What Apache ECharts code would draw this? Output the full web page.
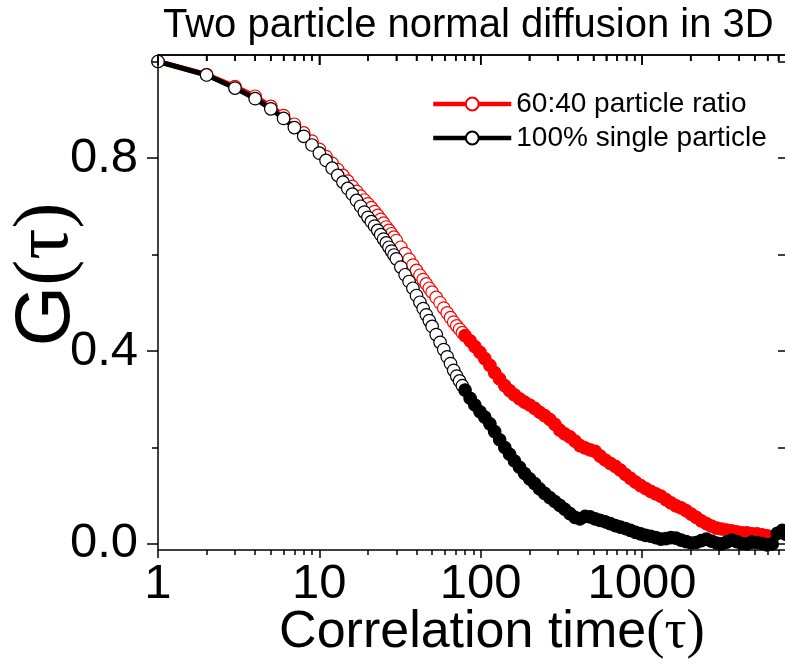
<!DOCTYPE html>
<html><head><meta charset="utf-8">
<script src="https://cdn.jsdelivr.net/npm/echarts@6/dist/echarts.min.js"></script>
<style>html,body{margin:0;padding:0;background:#fff}#c{width:785px;height:664px}</style>
</head><body><div id="c"></div>
<script>
// Correlation time samples (tau)
const tau = [1,2,3,4,5,6,7,8,9,10,11,12,13,14,15,16,17,18,19,20,
  21,22,23,24,25,26,27,28,29,30,32,34,36,38,40,42,44,46,48,50,
  53,56,59,62,65,68,71,74,77,80,86,92,99,106,114,122,131,141,151,162,
  174,187,201,216,232,249,268,288,309,332,357,384,412,443,476,512,550,591,635,683,
  734,789,848,911,979,1052,1131,1216,1307,1405,1510,1623,1745,1875,2016,2167,2329,2504,2691,2893,
  3110,3343,3593,3863,4152,4463,4798,5158,5544,5960,6407,6887,7403,7800];
// 60:40 particle ratio (red)
const gRatio = [1.000,0.973,0.948,0.928,0.907,0.888,0.870,0.852,0.835,0.818,0.803,0.789,0.776,0.764,0.752,0.741,0.731,0.721,0.713,0.705,
  0.697,0.689,0.681,0.673,0.665,0.657,0.650,0.643,0.636,0.629,0.615,0.602,0.590,0.578,0.567,0.557,0.548,0.539,0.530,0.522,
  0.511,0.500,0.489,0.479,0.469,0.460,0.452,0.445,0.438,0.432,0.421,0.409,0.397,0.384,0.370,0.355,0.342,0.328,0.318,0.309,
  0.301,0.294,0.288,0.281,0.273,0.266,0.258,0.248,0.236,0.228,0.222,0.213,0.204,0.199,0.195,0.192,0.182,0.174,0.167,0.161,
  0.153,0.144,0.136,0.128,0.121,0.115,0.109,0.104,0.099,0.092,0.085,0.079,0.075,0.069,0.062,0.055,0.048,0.042,0.037,0.033,
  0.031,0.029,0.027,0.025,0.023,0.023,0.021,0.021,0.019,0.017,0.012];
// 100% single particle (black)
const gSingle = [1.000,0.972,0.945,0.923,0.902,0.882,0.863,0.845,0.827,0.810,0.795,0.779,0.764,0.750,0.737,0.725,0.712,0.700,0.688,0.677,
  0.668,0.659,0.650,0.641,0.632,0.624,0.615,0.607,0.599,0.591,0.574,0.558,0.544,0.530,0.515,0.501,0.488,0.475,0.463,0.451,
  0.434,0.418,0.403,0.388,0.374,0.360,0.348,0.338,0.328,0.319,0.302,0.288,0.274,0.263,0.249,0.233,0.216,0.200,0.186,0.172,
  0.159,0.146,0.135,0.125,0.114,0.105,0.096,0.088,0.080,0.072,0.063,0.055,0.052,0.057,0.056,0.052,0.049,0.046,0.042,0.038,
  0.035,0.032,0.028,0.024,0.021,0.018,0.016,0.013,0.010,0.011,0.013,0.012,0.008,0.005,0.002,0.003,0.007,0.010,0.006,0.002,
  0.000,0.004,0.008,0.005,0.001,0.000,0.004,0.003,0.001,-0.002,0.000,0.022,0.028,0.020];
const seriesNames = ['60:40 particle ratio','100% single particle'];
const xMajorTicks = [1,10,100,1000];
const xMinorTicks = [2,3,4,5,6,7,8,9,20,30,40,50,60,70,80,90,200,300,400,500,600,700,800,900,2000,3000,4000,5000,6000,7000];
const yMajorTicks = [0,0.4,0.8];
const yMinorTicks = [0.2,0.6,1.0];
const yAllTicks = [0,0.2,0.4,0.6,0.8,1.0];

const SANS = '"Liberation Sans", Arial, sans-serif';
const SERIF = '"Liberation Serif", "Times New Roman", serif';
const FILL_FROM = 80;  // markers merge into a solid band beyond this tau

function build(vals, fill) {
  return vals.map((v, i) => {
    const item = { value: [tau[i], v] };
    if (tau[i] >= FILL_FROM) item.itemStyle = { color: fill };
    return item;
  });
}

const X_MIN = 1, X_MAX = 7800, Y_MIN = -0.0125, Y_MAX = 1.0135;
function grid() { return { left: 158, right: -1, top: 55, bottom: 114, outerBoundsMode: 'none', containLabel: false }; }
function axLine(show) { return { show: show, onZero: false, lineStyle: { color: '#000', width: 1.5 } }; }
function tickStyle(ticks, len, inside) {
  return ticks ? { show: true, customValues: ticks.slice(), length: len, inside: inside, lineStyle: { color: '#000', width: 1.5 } }
               : { show: false };
}
function xAx(g, pos, showLine, ticks, len, inside, opts) {
  return Object.assign({
    type: 'log', min: X_MIN, max: X_MAX, position: pos, gridIndex: g, z: 10,
    axisLine: axLine(showLine), splitLine: { show: false },
    axisTick: tickStyle(ticks, len, inside), axisLabel: { show: false }
  }, opts || {});
}
function yAx(g, pos, showLine, ticks, len, inside, opts) {
  return Object.assign({
    type: 'value', min: Y_MIN, max: Y_MAX, position: pos, gridIndex: g, z: 10,
    axisLine: axLine(showLine), splitLine: { show: false },
    axisTick: tickStyle(ticks, len, inside), axisLabel: { show: false }
  }, opts || {});
}

const chart = echarts.init(document.getElementById('c'), null, { renderer: 'canvas' });
chart.setOption({
  animation: false,
  backgroundColor: '#fff',
  title: {
    text: 'Two particle normal diffusion in 3D', left: 163, top: 4, z: 1,
    backgroundColor: 'transparent', padding: 0,
    textStyle: { fontFamily: SANS, fontSize: 40, fontWeight: 'normal', color: '#000', lineHeight: 44 }
  },
  legend: {
    data: seriesNames, orient: 'vertical', left: 426, top: 84,
    itemWidth: 78, itemHeight: 16, itemGap: 4,
    lineStyle: { width: 4.5 },
    textStyle: { fontFamily: SANS, fontSize: 28, color: '#000', lineHeight: 30 }
  },
  grid: [grid(), grid()],
  xAxis: [
    xAx(0, 'bottom', true, xMajorTicks, 8, false, {
      axisLabel: { show: true, customValues: xMajorTicks.slice(), margin: 10, fontFamily: SANS, fontSize: 49, color: '#000',
        formatter: v => String(Math.round(v)) },
      name: '{a|Correlation time}{b|(τ)}', nameLocation: 'middle', nameGap: 55, nameMoveOverlap: false,
      nameTextStyle: { padding: [0, 0, 0, 40], rich: {
        a: { fontFamily: SANS, fontSize: 52, color: '#000' },
        b: { fontFamily: SERIF, fontSize: 55, color: '#000' } } }
    }),
    xAx(0, 'top', true, xMajorTicks, 10, true),
    xAx(1, 'bottom', false, xMinorTicks, 5, false),
    xAx(1, 'top', false, xMinorTicks, 6, true)
  ],
  yAxis: [
    yAx(0, 'left', true, yMajorTicks, 11, false, {
      axisLabel: { show: true, customValues: yMajorTicks.slice(), margin: 20, fontFamily: SANS, fontSize: 49, color: '#000',
        formatter: v => Number(v).toFixed(1) },
      name: '{a|G}{b|(τ)}', nameLocation: 'middle', nameGap: 72, nameMoveOverlap: false,
      nameTextStyle: { padding: [0, 0, 0, 56], rich: {
        a: { fontFamily: SANS, fontSize: 78, color: '#000' },
        b: { fontFamily: SERIF, fontSize: 78, color: '#000' } } }
    }),
    yAx(0, 'right', true, yAllTicks, 8, true),
    yAx(1, 'left', false, yMinorTicks, 6, false),
    yAx(1, 'right', false, null, 0, true)
  ],
  series: [
    {
      name: seriesNames[0], type: 'line', xAxisIndex: 0, yAxisIndex: 0,
      data: build(gRatio, '#ff0000'), showAllSymbol: true,
      symbol: 'circle', symbolSize: 12.5,
      lineStyle: { color: '#ff0000', width: 5 },
      itemStyle: { color: '#ffffff', borderColor: '#ff0000', borderWidth: 1.2 },
      emphasis: { disabled: true }, z: 2
    },
    {
      name: seriesNames[1], type: 'line', xAxisIndex: 0, yAxisIndex: 0,
      data: build(gSingle, '#000000'), showAllSymbol: true,
      symbol: 'circle', symbolSize: 12.5,
      lineStyle: { color: '#000000', width: 5 },
      itemStyle: { color: '#ffffff', borderColor: '#000000', borderWidth: 1.2 },
      emphasis: { disabled: true }, z: 3
    }
  ]
});

// Top frame edge with inward ticks, placed through the x axis scale.
const yTop = chart.convertToPixel({ yAxisIndex: 0 }, Y_MAX);
const xLeft = chart.convertToPixel({ xAxisIndex: 0 }, X_MIN);
const xRight = chart.convertToPixel({ xAxisIndex: 0 }, X_MAX);
const frame = [{ type: 'line', z: 50, silent: true,
  shape: { x1: xLeft, y1: yTop, x2: xRight + 2, y2: yTop }, style: { stroke: '#000', lineWidth: 1.5 } }];
function addTicks(vals, len) {
  vals.forEach(v => {
    const x = chart.convertToPixel({ xAxisIndex: 0 }, v);
    frame.push({ type: 'line', z: 50, silent: true,
      shape: { x1: x, y1: yTop, x2: x, y2: yTop + len }, style: { stroke: '#000', lineWidth: 1.5 } });
  });
}
addTicks(xMajorTicks, 10);
addTicks(xMinorTicks, 6);
chart.setOption({ graphic: frame });
</script></body></html>
